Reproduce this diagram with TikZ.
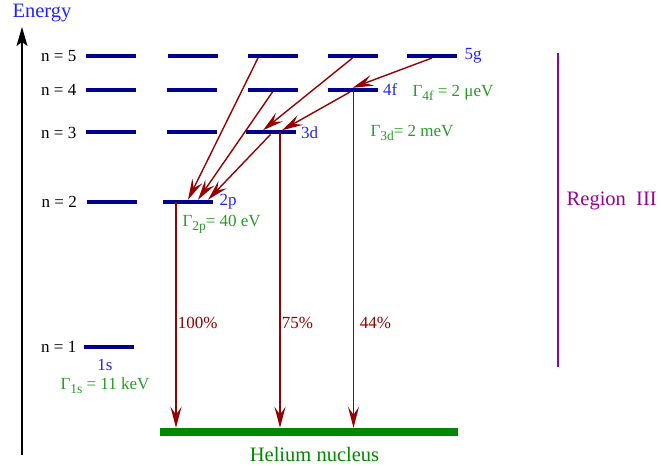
\documentclass[tikz,border=0pt]{standalone}
\usepackage{fontspec}
\setmainfont{Liberation Serif}
\usetikzlibrary{calc}
\usetikzlibrary{positioning}
\usetikzlibrary{arrows.meta}

\definecolor{levelblue}{RGB}{0,0,140}
\definecolor{labelblue}{RGB}{35,35,255}
\definecolor{widthgreen}{RGB}{40,155,40}
\definecolor{nucgreen}{RGB}{0,136,0}
\definecolor{decayred}{RGB}{150,0,0}
\definecolor{regionpurple}{RGB}{153,0,153}

\newcommand{\lowsub}[1]{\raisebox{-4pt}{\fontsize{13.5}{15}\selectfont #1}}

\begin{document}
\begin{tikzpicture}[x=1pt, y=1pt]
    \tikzset{
        every node/.style={font=\fontsize{17}{20}\selectfont},
        level/.style={rectangle, fill=levelblue, minimum width=50pt, minimum height=4pt, inner sep=0pt},
        orbital/.style={text=labelblue},
        gamma/.style={text=widthgreen, anchor=base west},
        decay/.style={draw=decayred, line width=1.4pt, -{Stealth[length=21pt, width=11pt, inset=8pt]}},
        big/.style={font=\fontsize{20.5}{24}\selectfont}
    }
    \useasboundingbox (0,0) rectangle (661,469);

    % draw energy axis
    \coordinate (ebot) at (22,14);
    \coordinate (etop) at (22,442);
    \draw[line width=1.3pt, -{Stealth[length=19pt, width=11pt, inset=4pt]}] (ebot) -- (etop);
    \node[big, text=labelblue, anchor=base] (energy) at (42,451) {Energy};

    % draw levels n = 5
    \node[level] (l5a) at (111,413) {};
    \node[level] (l5b) at (193,413) {};
    \node[level] (l5c) at (272.5,413) {};
    \node[level] (l5d) at (352.5,413) {};
    \node[level] (l5e) at (432,413) {};
    % draw levels n = 4
    \node[level] (l4a) at (111,379) {};
    \node[level] (l4b) at (192,379) {};
    \node[level] (l4c) at (272.5,379) {};
    \node[level] (l4d) at (352.5,379) {};
    % draw levels n = 3
    \node[level] (l3a) at (111,336.5) {};
    \node[level] (l3b) at (192,336.5) {};
    \node[level] (l3c) at (270.5,336.5) {};
    % draw levels n = 2 and n = 1
    \node[level] (l2a) at (111.5,267) {};
    \node[level] (l2b) at (188,267) {};
    \node[level] (l1a) at (109,122) {};

    % principal quantum numbers
    \node[left=6pt of l5a] (n5) {n = 5};
    \node[left=6pt of l4a] (n4) {n = 4};
    \node[left=6pt of l3a] (n3) {n = 3};
    \node[left=6pt of l2a] (n2) {n = 2};
    \node[left=4pt of l1a] (n1) {n = 1};

    % orbital names
    \node[orbital, right=4pt of l5e] (o5g) {5g};
    \node[orbital, right=2pt of l4d] (o4f) {4f};
    \node[orbital, right=2pt of l3c] (o3d) {3d};
    \node[orbital, right=3pt of l2b] (o2p) {2p};
    \node[orbital, anchor=base] (o1s) at (105,99) {1s};

    % widths
    \node[gamma] (g4f) at (409,372) {Γ\lowsub{4f} = 2 μeV};
    \node[gamma] (g3d) at (367,332) {Γ\lowsub{3d}= 2 meV};
    \node[gamma] (g2p) at (179,242) {Γ\lowsub{2p}= 40 eV};
    \node[gamma] (g1s) at (57,80) {Γ\lowsub{1s} = 11 keV};

    % draw helium nucleus
    \node[rectangle, fill=nucgreen, minimum width=298pt, minimum height=8pt, inner sep=0pt] (nuc) at (309,37) {};
    \node[big, text=nucgreen, anchor=base] (helium) at (314.5,8) {Helium nucleus};

    % draw cascade between levels
    \draw[decay] ($(l5c.center)+(-14.5,-2)$) -- (l2b.north);
    \draw[decay] ($(l4c.center)+(0,-2)$) -- ($(l2b.north)+(10,0)$);
    \draw[decay] ($(l3c.center)+(0,-2)$) -- ($(l2b.north)+(20,0)$);
    \draw[decay] ($(l5d.center)+(0,-2)$) -- ($(l3c.north)+(-7.5,0)$);
    \draw[decay] ($(l4d.center)+(-2.5,-2)$) -- ($(l3c.north)+(11.5,0)$);
    \draw[decay] ($(l5e.center)+(0,-2)$) -- (l4d.north);

    % draw x-ray transitions to the nucleus
    \draw[decay, line width=2.2pt] ($(l2b.center)+(-12,0)$) coordinate (s2p) -- (s2p |- nuc.north);
    \draw[decay, line width=2.2pt] ($(l3c.center)+(9.5,0)$) coordinate (s3d) -- (s3d |- nuc.north);
    \draw[decay, line width=1.6pt] ($(l4d.center)+(1,0)$) coordinate (s4f) -- (s4f |- nuc.north);
    \node[text=decayred, anchor=base west] (p2p) at (174.3,141) {100\%};
    \node[text=decayred, anchor=base west] (p3d) at (278.3,141) {75\%};
    \node[text=decayred, anchor=base west] (p4f) at (356.3,141) {44\%};

    % region bar
    \draw[regionpurple, line width=2pt] (557.5,102) -- (557.5,416);
    \node[big, text=regionpurple, anchor=base west] (region) at (563.2,263) {Region\ \ III};

\end{tikzpicture}
\end{document}
